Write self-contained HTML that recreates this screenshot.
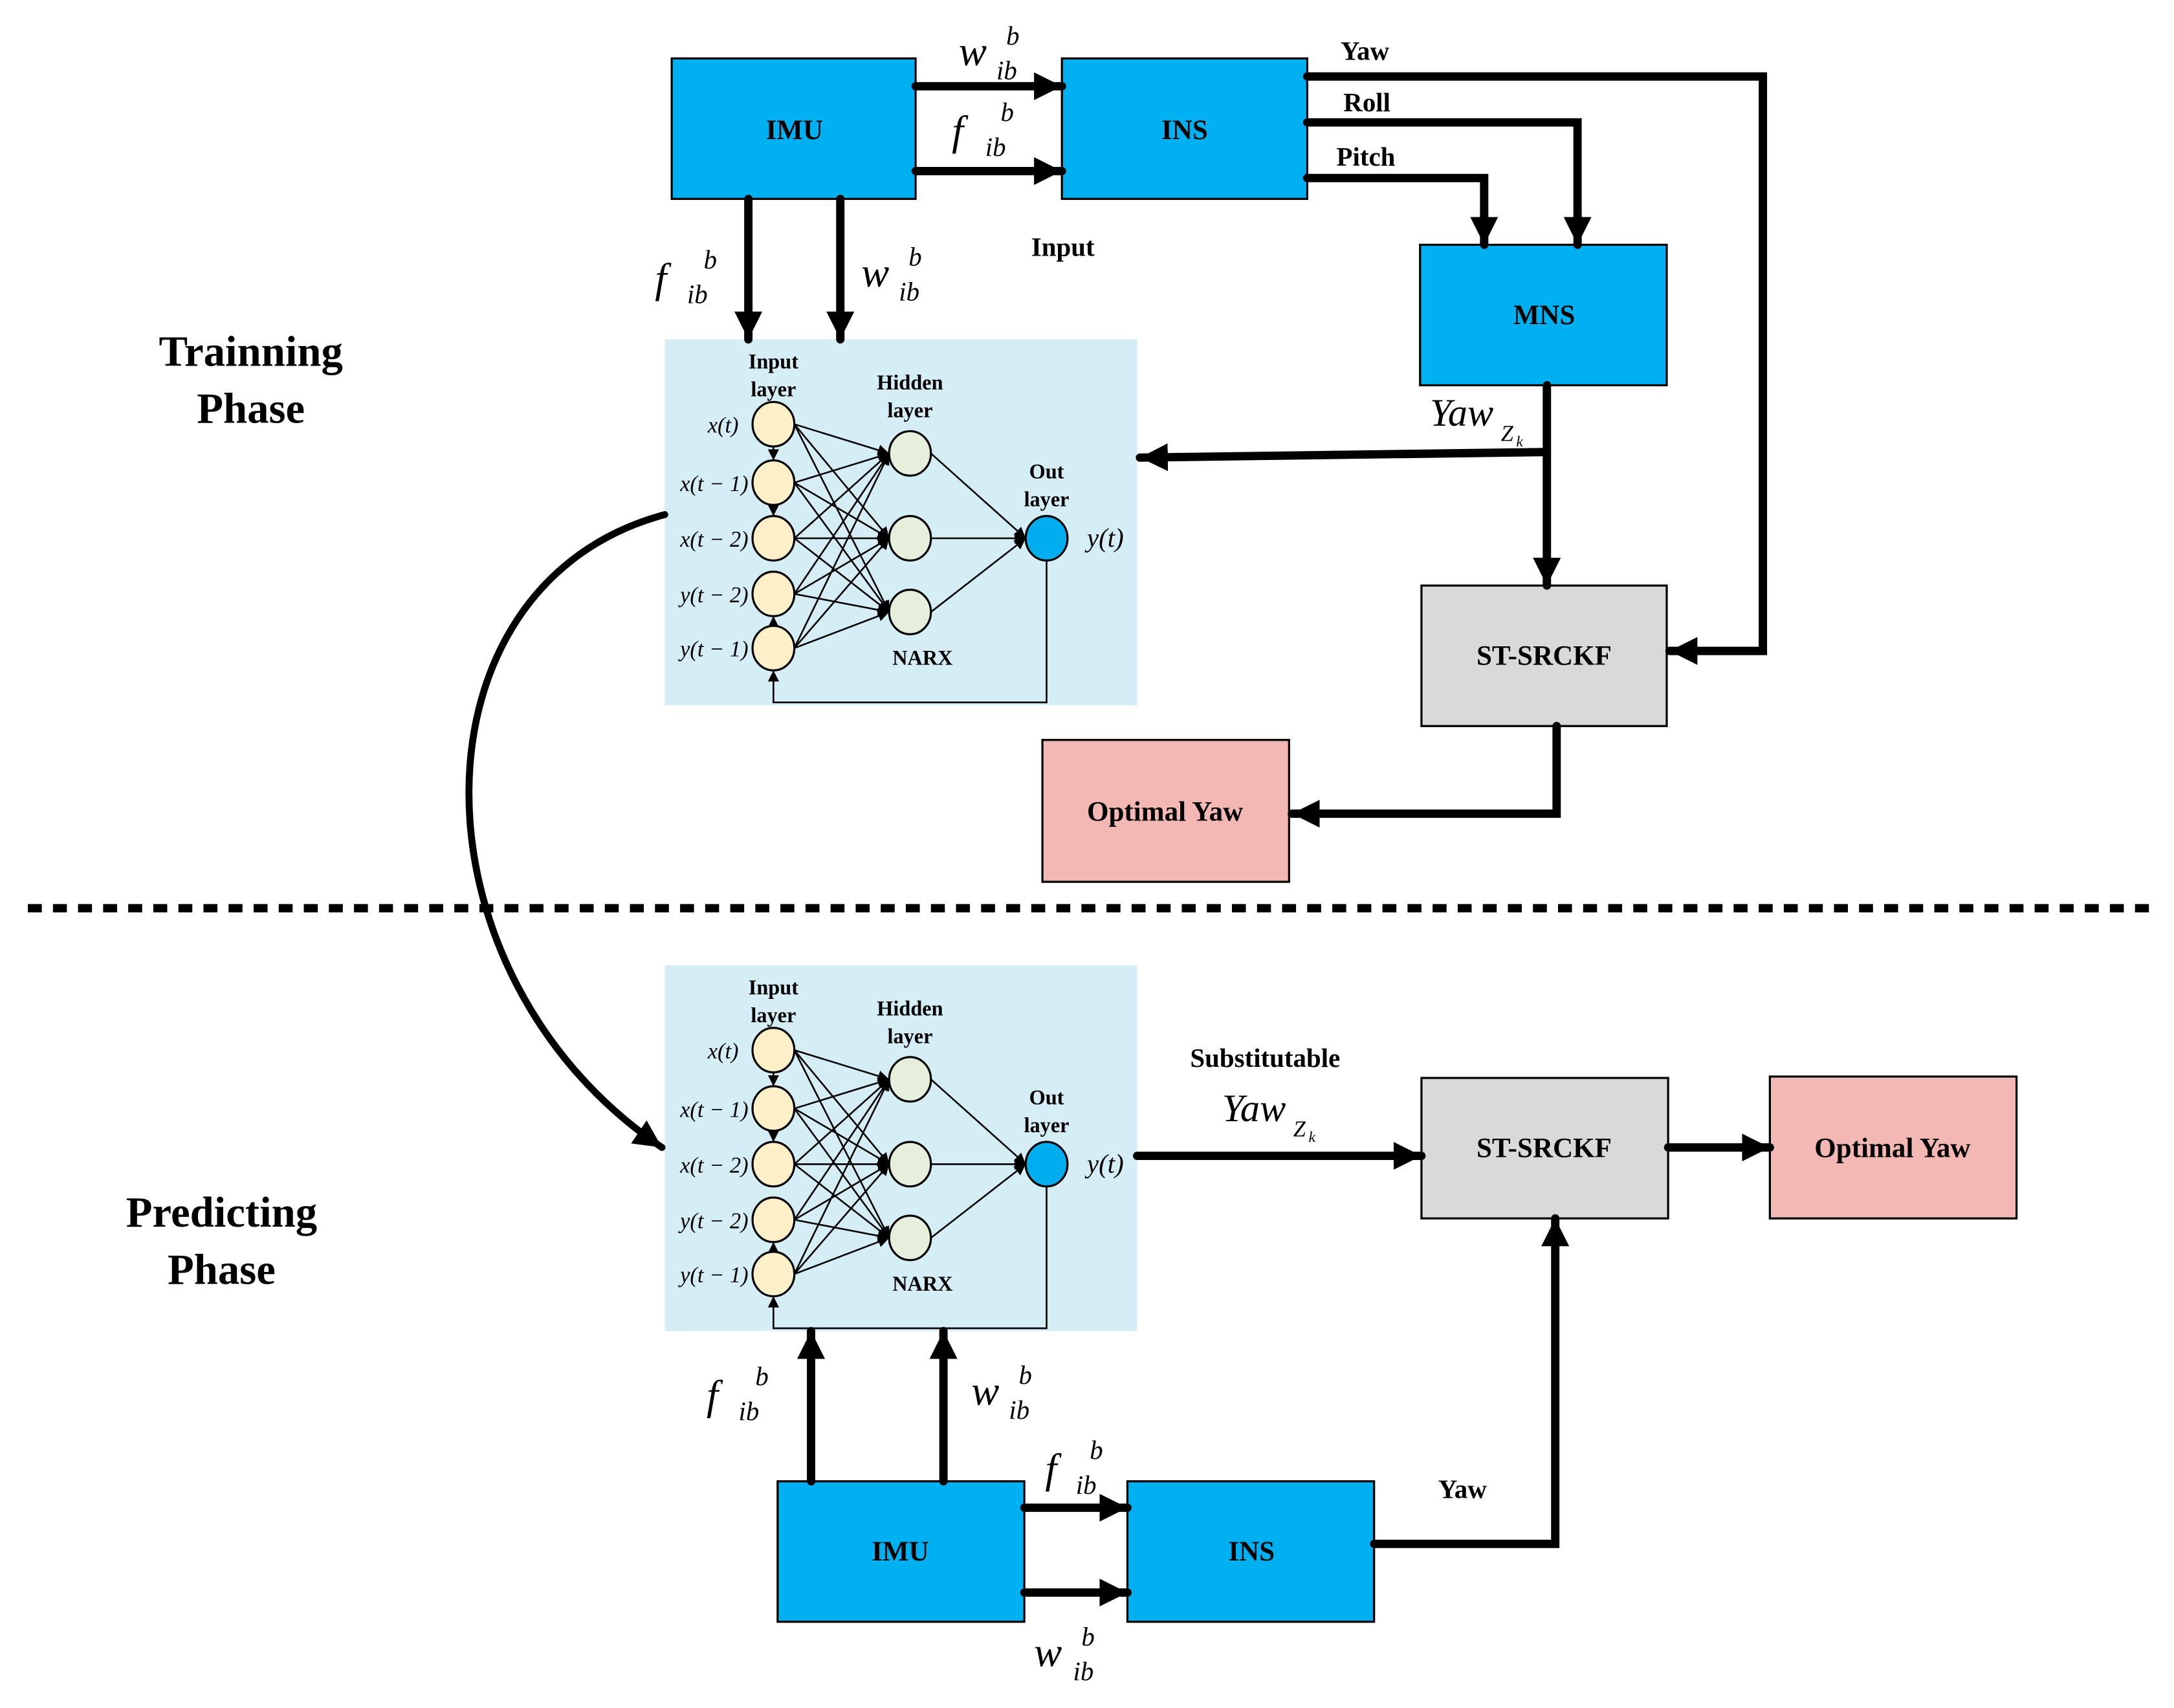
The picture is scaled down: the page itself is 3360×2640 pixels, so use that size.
<!DOCTYPE html>
<html><head><meta charset="utf-8"><style>
html,body{margin:0;padding:0;background:#fff}
svg{display:block}
text{font-family:"Liberation Serif",serif}
.b{font-weight:bold}
.m{font-style:italic}
</style></head><body>
<svg width="3360" height="2640" viewBox="0 0 1560 1228" preserveAspectRatio="none" xmlns="http://www.w3.org/2000/svg">
<defs>
<marker id="A" markerUnits="userSpaceOnUse" markerWidth="24" markerHeight="24" refX="20" refY="10" orient="auto"><path d="M0,0 L20,10 L0,20 Z" fill="#000"/></marker>
<marker id="s" markerUnits="userSpaceOnUse" markerWidth="10" markerHeight="10" refX="8" refY="4" orient="auto"><path d="M0,0 L8,4 L0,8 Z" fill="#000"/></marker>
<g id="narx">
<rect x="477" y="244" width="339" height="263" fill="#d5edf5"/>
<g stroke="#000" stroke-width="1.2" marker-end="url(#s)">
<line x1="570" y1="305" x2="638" y2="326"/><line x1="570" y1="305" x2="638" y2="387"/><line x1="570" y1="305" x2="638" y2="440"/>
<line x1="570" y1="347" x2="638" y2="326"/><line x1="570" y1="347" x2="638" y2="387"/><line x1="570" y1="347" x2="638" y2="440"/>
<line x1="570" y1="387" x2="638" y2="326"/><line x1="570" y1="387" x2="638" y2="387"/><line x1="570" y1="387" x2="638" y2="440"/>
<line x1="570" y1="427" x2="638" y2="326"/><line x1="570" y1="427" x2="638" y2="387"/><line x1="570" y1="427" x2="638" y2="440"/>
<line x1="570" y1="466" x2="638" y2="326"/><line x1="570" y1="466" x2="638" y2="387"/><line x1="570" y1="466" x2="638" y2="440"/>
<line x1="668" y1="326" x2="736" y2="387"/><line x1="668" y1="387" x2="736" y2="387"/><line x1="668" y1="440" x2="736" y2="387"/>
<line x1="555" y1="321" x2="555" y2="331"/><line x1="555" y1="363" x2="555" y2="371"/><line x1="555" y1="450" x2="555" y2="443"/>
<polyline points="751,402 751,505 555,505 555,482" fill="none"/>
</g>
<g stroke="#000" stroke-width="1.5">
<ellipse cx="555" cy="305" rx="15" ry="16" fill="#fdf0c8"/><ellipse cx="555" cy="347" rx="15" ry="16" fill="#fdf0c8"/><ellipse cx="555" cy="387" rx="15" ry="16" fill="#fdf0c8"/><ellipse cx="555" cy="427" rx="15" ry="16" fill="#fdf0c8"/><ellipse cx="555" cy="466" rx="15" ry="16" fill="#fdf0c8"/>
<ellipse cx="653" cy="326" rx="15" ry="16" fill="#e6efdc"/><ellipse cx="653" cy="387" rx="15" ry="16" fill="#e6efdc"/><ellipse cx="653" cy="440" rx="15" ry="16" fill="#e6efdc"/>
<ellipse cx="751" cy="387" rx="15" ry="16" fill="#00aeef"/>
</g>
<g class="b" font-size="15" text-anchor="middle">
<text x="555" y="265">Input</text><text x="555" y="285">layer</text>
<text x="653" y="280">Hidden</text><text x="653" y="300">layer</text>
<text x="751" y="344">Out</text><text x="751" y="364">layer</text>
<text x="662" y="478">NARX</text>
</g>
<g class="m" font-size="16" text-anchor="end">
<text x="530" y="311">x(t)</text><text x="537" y="353">x(t − 1)</text><text x="537" y="393">x(t − 2)</text><text x="537" y="433">y(t − 2)</text><text x="537" y="472">y(t − 1)</text>
</g>
<text class="m" x="780" y="393" font-size="19">y(t)</text>
</g>
</defs>

<use href="#narx"/>
<use href="#narx" y="450"/>

<g stroke="#000" stroke-width="1.5" class="b" font-size="20" text-anchor="middle">
<rect x="482" y="42" width="175" height="101" fill="#00b0f0"/>
<rect x="762" y="42" width="176" height="101" fill="#00b0f0"/>
<rect x="1019" y="176" width="177" height="101" fill="#00b0f0"/>
<rect x="1020" y="421" width="176" height="101" fill="#d9d9d9"/>
<rect x="748" y="532" width="177" height="102" fill="#f4b8b4"/>
<rect x="1020" y="775" width="177" height="101" fill="#d9d9d9"/>
<rect x="1270" y="774" width="177" height="102" fill="#f4b8b4"/>
<rect x="558" y="1065" width="177" height="101" fill="#00b0f0"/>
<rect x="809" y="1065" width="177" height="101" fill="#00b0f0"/>
</g>
<g class="b" font-size="20" text-anchor="middle">
<text x="570" y="100">IMU</text><text x="850" y="100">INS</text><text x="1108" y="233">MNS</text>
<text x="1108" y="478">ST-SRCKF</text><text x="836" y="590">Optimal Yaw</text>
<text x="1108" y="832">ST-SRCKF</text><text x="1358" y="832">Optimal Yaw</text>
<text x="646" y="1122">IMU</text><text x="898" y="1122">INS</text>
</g>

<g stroke="#000" stroke-width="6" fill="none" stroke-linecap="round">
<line x1="657" y1="62" x2="762" y2="62" marker-end="url(#A)"/>
<line x1="657" y1="123" x2="762" y2="123" marker-end="url(#A)"/>
<polyline points="938,55 1265,55 1265,468 1198,468" marker-end="url(#A)"/>
<polyline points="938,88 1132,88 1132,176" marker-end="url(#A)"/>
<polyline points="938,128 1065,128 1065,176" marker-end="url(#A)"/>
<line x1="537" y1="143" x2="537" y2="244" marker-end="url(#A)"/>
<line x1="603" y1="143" x2="603" y2="244" marker-end="url(#A)"/>
<line x1="1110" y1="277" x2="1110" y2="421" marker-end="url(#A)"/>
<polyline points="1110,325 818,329" marker-end="url(#A)"/>
<polyline points="1117,522 1117,585 927,585" marker-end="url(#A)"/>
<path d="M477,370 C 290,420 290,700 475,825" stroke-width="5" marker-end="url(#A)"/>
<line x1="816" y1="831" x2="1020" y2="831" marker-end="url(#A)"/>
<line x1="1197" y1="825" x2="1270" y2="825" marker-end="url(#A)"/>
<line x1="582" y1="1065" x2="582" y2="957" marker-end="url(#A)"/>
<line x1="677" y1="1065" x2="677" y2="957" marker-end="url(#A)"/>
<line x1="735" y1="1084" x2="809" y2="1084" marker-end="url(#A)"/>
<line x1="735" y1="1145" x2="809" y2="1145" marker-end="url(#A)"/>
<polyline points="986,1110 1116,1110 1116,876" marker-end="url(#A)"/>
</g>
<line x1="20" y1="653" x2="1548" y2="653" stroke="#000" stroke-width="6" stroke-dasharray="10,8"/>

<g class="b" font-size="19">
<text x="962" y="43">Yaw</text><text x="964" y="80">Roll</text><text x="959" y="119">Pitch</text>
<text x="740" y="184">Input</text>
<text x="854" y="767">Substitutable</text>
<text x="1032" y="1077">Yaw</text>
</g>
<g class="b" font-size="31" text-anchor="middle">
<text x="180" y="263">Trainning</text><text x="180" y="304">Phase</text>
<text x="159" y="882">Predicting</text><text x="159" y="923">Phase</text>
</g>

<g class="m" font-size="30">
<text x="688" y="47">w</text><text x="722" y="32" font-size="19">b</text><text x="715" y="57" font-size="19">ib</text>
<text x="683" y="104">f</text><text x="718" y="87" font-size="19">b</text><text x="707" y="112" font-size="19">ib</text>
<text x="470" y="210">f</text><text x="505" y="193" font-size="19">b</text><text x="493" y="218" font-size="19">ib</text>
<text x="618" y="206">w</text><text x="652" y="191" font-size="19">b</text><text x="645" y="216" font-size="19">ib</text>
<text x="1026" y="306" font-size="28">Yaw</text><text x="1077" y="317" font-size="16">Z</text><text x="1088" y="321" font-size="11">k</text>
<text x="877" y="806" font-size="28">Yaw</text><text x="928" y="817" font-size="16">Z</text><text x="939" y="821" font-size="11">k</text>
<text x="507" y="1013">f</text><text x="542" y="996" font-size="19">b</text><text x="530" y="1021" font-size="19">ib</text>
<text x="697" y="1010">w</text><text x="731" y="995" font-size="19">b</text><text x="724" y="1020" font-size="19">ib</text>
<text x="750" y="1066">f</text><text x="782" y="1049" font-size="19">b</text><text x="772" y="1074" font-size="19">ib</text>
<text x="742" y="1198">w</text><text x="776" y="1183" font-size="19">b</text><text x="770" y="1208" font-size="19">ib</text>
</g>
</svg>
</body></html>
